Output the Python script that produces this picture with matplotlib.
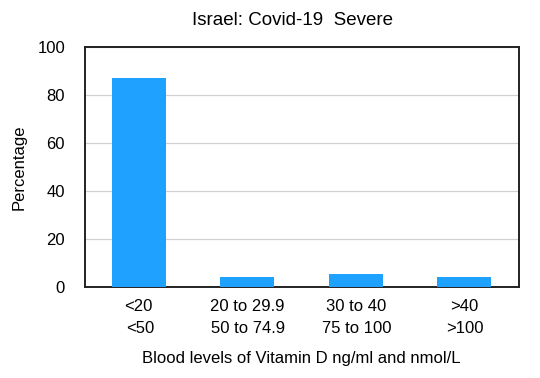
import matplotlib
matplotlib.use("Agg")
import matplotlib.pyplot as plt
from matplotlib.transforms import blended_transform_factory

categories_ng = ["<20", "20 to 29.9", "30 to 40", ">40"]
categories_nmol = ["<50", "50 to 74.9", "75 to 100", ">100"]
percentages = [87, 4.3, 5.4, 4.3]
yticks = [0, 20, 40, 60, 80, 100]

plt.rcParams['font.family'] = ['Liberation Sans', 'DejaVu Sans']

fig = plt.figure(figsize=(5.4, 3.78), dpi=100)
ax = fig.add_axes([84.5/540, 1 - 287/378, 434/540, 240/378])

x = list(range(len(categories_ng)))
ax.bar(x, percentages, width=0.5, color="#1FA2FF", zorder=3)
ax.set_xlim(-0.5, len(categories_ng) - 0.5)
ax.set_ylim(0, 100)
ax.set_yticks(yticks)
ax.set_yticklabels([str(v) for v in yticks], fontsize=12)
ax.yaxis.grid(True, color="#d0d0d0", linewidth=0.9, zorder=0)
ax.tick_params(axis='both', length=0)
ax.tick_params(axis='y', pad=14)
ax.set_xticks(x)
ax.set_xticklabels([])
for s in ax.spines.values():
    s.set_color("#222222")
    s.set_linewidth(1.4)

trans = blended_transform_factory(ax.transData, ax.transAxes)
for xi, lab1, lab2 in zip(x, categories_ng, categories_nmol):
    ax.text(xi, -0.100, lab1, transform=trans, ha='center', va='baseline', fontsize=12)
    ax.text(xi + 0.01, -0.193, lab2, transform=trans, ha='center', va='baseline', fontsize=12)

ax.text(0.5, -0.317, "Blood levels of Vitamin D ng/ml and nmol/L", transform=ax.transAxes,
        ha='center', va='baseline', fontsize=12)
fig.text(19/540, 1 - 167/378, "Percentage", rotation=90, ha='center', va='center', fontsize=12)
fig.text(292/540, 1 - 25/378, "Israel: Covid-19  Severe", ha='center', va='baseline', fontsize=13.5)

fig.savefig("out.png", dpi=100)
